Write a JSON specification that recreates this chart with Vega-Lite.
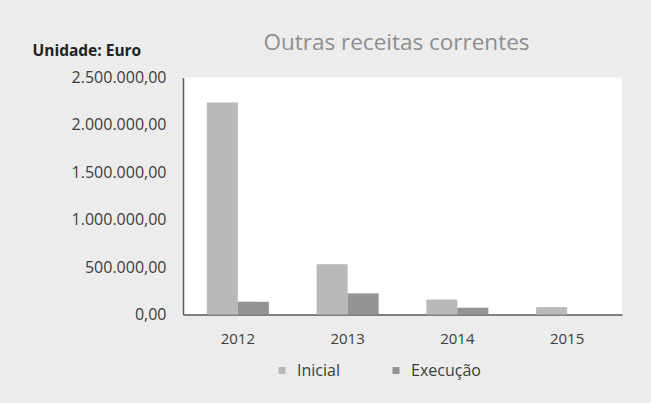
{
  "$schema": "https://vega.github.io/schema/vega-lite/v6.json",
  "width": 439,
  "height": 237,
  "autosize": {"type": "none"},
  "padding": {"left": 183, "top": 77.5, "right": 29, "bottom": 88.5},
  "background": "#ececec",
  "title": {
    "text": "Outras receitas correntes",
    "font": "Open Sans",
    "fontSize": 22.5,
    "fontWeight": "normal",
    "color": "#8e8e8e",
    "anchor": "middle",
    "dx": -6,
    "dy": 33,
    "offset": 22
  },
  "data": {
    "values": [
      {"ano": "2012", "serie": "Inicial", "valor": 2235000},
      {"ano": "2012", "serie": "Execução", "valor": 135000},
      {"ano": "2013", "serie": "Inicial", "valor": 530000},
      {"ano": "2013", "serie": "Execução", "valor": 223000},
      {"ano": "2014", "serie": "Inicial", "valor": 158000},
      {"ano": "2014", "serie": "Execução", "valor": 72000},
      {"ano": "2015", "serie": "Inicial", "valor": 78000},
      {"ano": "2015", "serie": "Execução", "valor": 0}
    ]
  },
  "mark": {"type": "bar"},
  "encoding": {
    "x": {
      "field": "ano",
      "type": "nominal",
      "scale": {"paddingInner": 0.435, "paddingOuter": 0.2175},
      "axis": {
        "title": null,
        "labelAngle": 0,
        "labelFont": "Open Sans",
        "labelFontSize": 15,
        "labelColor": "#3c3c3c",
        "labelPadding": 17,
        "ticks": false,
        "domainColor": "#5a5a5a",
        "domainWidth": 1.5
      }
    },
    "xOffset": {
      "field": "serie",
      "type": "nominal",
      "sort": ["Inicial", "Execução"],
      "scale": {"paddingInner": 0, "paddingOuter": 0}
    },
    "y": {
      "field": "valor",
      "type": "quantitative",
      "scale": {"domain": [0, 2500000], "nice": false},
      "axis": {
        "values": [0, 500000, 1000000, 1500000, 2000000, 2500000],
        "format": ",.2f",
        "grid": false,
        "ticks": false,
        "labelFont": "Open Sans",
        "labelFontSize": 16,
        "labelColor": "#3c3c3c",
        "labelPadding": 17,
        "domainColor": "#5a5a5a",
        "domainWidth": 1.5,
        "title": "Unidade: Euro",
        "titleFont": "Open Sans",
        "titleFontSize": 15.5,
        "titleFontWeight": "bold",
        "titleColor": "#222222",
        "titleAngle": 0,
        "titleAlign": "left",
        "titleBaseline": "middle",
        "titleX": -151,
        "titleY": -27.5
      }
    },
    "color": {
      "field": "serie",
      "type": "nominal",
      "sort": ["Inicial", "Execução"],
      "scale": {"domain": ["Inicial", "Execução"], "range": ["#b9b9b9", "#949494"]},
      "legend": {
        "title": null,
        "orient": "none",
        "direction": "horizontal",
        "legendX": 91,
        "legendY": 285,
        "symbolType": "square",
        "symbolSize": 49,
        "symbolStrokeWidth": 0,
        "labelFont": "Open Sans",
        "labelFontSize": 16,
        "labelColor": "#3c3c3c",
        "labelOffset": 7,
        "columnPadding": 48
      }
    }
  },
  "config": {
    "locale": {
      "number": {"decimal": ",", "thousands": ".", "grouping": [3], "currency": ["", " €"]}
    },
    "view": {"fill": "#ffffff", "stroke": null}
  }
}
